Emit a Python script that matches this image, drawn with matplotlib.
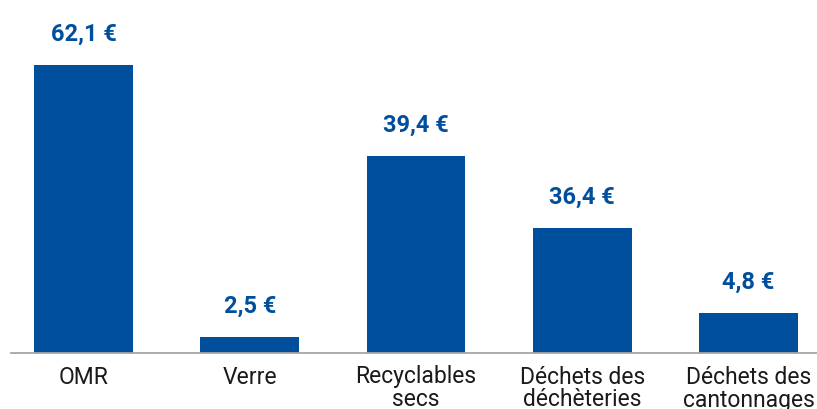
import matplotlib.pyplot as plt

# data
categories = ["OMR", "Verre", "Recyclables\nsecs", "Déchets des\ndéchèteries", "Déchets des\ncantonnages"]
cost_labels = ["62,1 €", "2,5 €", "39,4 €", "36,4 €", "4,8 €"]
bar_heights = [62.1, 3.5, 42.5, 27.0, 8.6]

BLUE = "#004f9d"

plt.rcParams["font.family"] = ["Roboto", "DejaVu Sans"]

fig = plt.figure(figsize=(8.17, 4.09), dpi=100)
ax = fig.add_axes([11 / 817, 56 / 409, 806 / 817, 353 / 409])

x = list(range(len(categories)))
bars = ax.bar(x, bar_heights, width=0.595, color=BLUE)

for bar, label in zip(bars, cost_labels):
    ax.annotate(label, (bar.get_x() + bar.get_width() / 2, bar.get_height()),
                xytext=(0, 22), textcoords="offset points",
                ha="center", va="center", fontsize=17, fontweight="bold", color=BLUE)

ax.set_xlim(-0.436, 4.412)
ax.set_ylim(0, 76.1)
ax.set_xticks(x)
ax.set_xticklabels(categories, fontsize=16.5, color="#1a1a1a", linespacing=1.0)
ax.tick_params(axis="x", length=0, pad=9)
ax.set_yticks([])

for side in ["top", "right", "left"]:
    ax.spines[side].set_visible(False)
ax.spines["bottom"].set_color("#a6a6a6")
ax.spines["bottom"].set_linewidth(1.3)

fig.savefig("out.png", dpi=100)
